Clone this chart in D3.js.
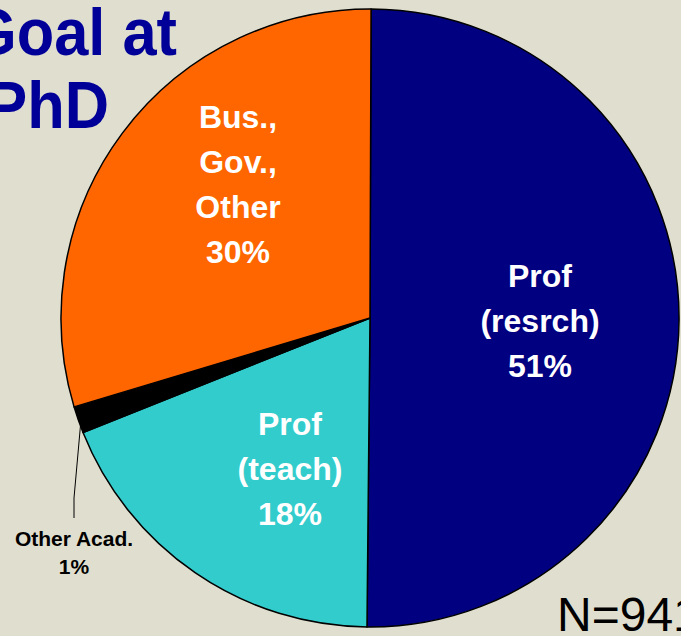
<!DOCTYPE html>
<html>
<head>
<meta charset="utf-8">
<script src="https://cdn.jsdelivr.net/npm/d3@7"></script>
<style>
  html, body { margin: 0; padding: 0; background: #e0dfcf; }
  svg { display: block; }
</style>
</head>
<body>
<div id="chart"></div>
<script>
var width = 681, height = 636;

// slices, clockwise from 12 o'clock
var categories = ["Prof (resrch)", "Prof (teach)", "Other Acad.", "Bus., Gov., Other"];
var shares = [50.1, 18.8, 1.4, 29.7];          // angular share
var pctLabels = ["51%", "18%", "1%", "30%"];   // printed labels
var labelLines = [["Prof", "(resrch)"], ["Prof", "(teach)"], ["Other Acad."], ["Bus.,", "Gov.,", "Other"]];
var colors = ["#000080", "#33cccc", "#000000", "#ff6600"];

var cx = 370, cy = 318, radius = 309;

var svg = d3.select("#chart").append("svg")
    .attr("width", width)
    .attr("height", height);

svg.append("rect")
    .attr("width", width)
    .attr("height", height)
    .attr("fill", "#e0dfcf");

var pie = d3.pie()
    .sort(null)
    .startAngle(0.2 * Math.PI / 180)
    .endAngle(2 * Math.PI + 0.2 * Math.PI / 180)
    .value(function(d) { return d; });

var arc = d3.arc()
    .innerRadius(0)
    .outerRadius(radius);

var arcs = pie(shares);

var g = svg.append("g")
    .attr("transform", "translate(" + cx + "," + cy + ")");

g.selectAll("path.slice")
    .data(arcs)
    .enter()
    .append("path")
      .attr("class", "slice")
      .attr("d", arc)
      .attr("fill", function(d, i) { return colors[i]; })
      .attr("stroke", "#000")
      .attr("stroke-width", 1.5)
      .attr("stroke-linejoin", "round");

// label positions (offsets from centre), inside labels in white
var labelPos = [[170, -31], [-80, 117], [-296, 228], [-132, -190]];
var lineGap = 45;

arcs.forEach(function(d, i) {
  var lines = labelLines[i].concat([pctLabels[i]]);
  var inside = i !== 2;
  var t = g.append("text")
      .attr("text-anchor", "middle")
      .attr("font-family", "Liberation Sans, Arial, sans-serif")
      .attr("font-weight", "bold")
      .attr("font-size", inside ? 32 : 21)
      .attr("fill", inside ? "#fff" : "#000");
  lines.forEach(function(s, k) {
    t.append("tspan")
      .attr("x", labelPos[i][0])
      .attr("y", labelPos[i][1] + k * (inside ? lineGap : 28))
      .text(s);
  });
});

// leader line for the thin slice
var mid = (arcs[2].startAngle + arcs[2].endAngle) / 2;
var p0 = [Math.sin(mid) * (radius - 3), -Math.cos(mid) * (radius - 3)];
g.append("path")
    .attr("d", d3.line()([p0, [-296, 180], [-296, 200]]))
    .attr("fill", "none")
    .attr("stroke", "#000")
    .attr("stroke-width", 1);

// title, a bit narrow like the slide font
var sx = 0.93;
var title = svg.append("text")
    .attr("transform", "scale(" + sx + ",1)")
    .attr("font-family", "Liberation Sans, Arial, sans-serif")
    .attr("font-weight", "bold")
    .attr("font-size", 66)
    .attr("fill", "#000099")
    .attr("text-anchor", "end");
title.append("tspan").attr("x", 177 / sx).attr("y", 55).text("Goal at");
title.append("tspan").attr("x", 109 / sx).attr("y", 128).text("PhD");

svg.append("text")
    .attr("x", 557)
    .attr("y", 631)
    .attr("font-family", "Liberation Sans, Arial, sans-serif")
    .attr("font-size", 48)
    .attr("fill", "#000")
    .text("N=941");
</script>
</body>
</html>
